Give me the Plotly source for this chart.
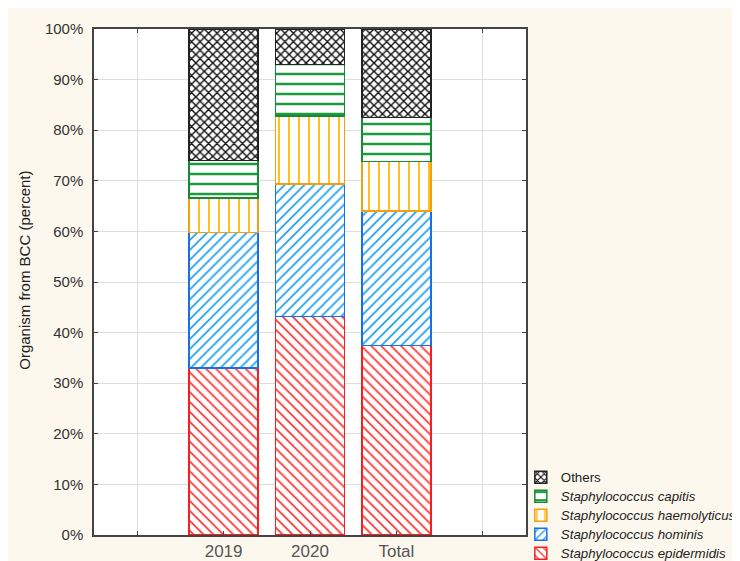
import plotly.graph_objects as go

categories = ["2019", "2020", "Total"]
axis_slots = [" ", "2019", "2020", "Total", "  "]
series_names = [
    "<i>Staphylococcus epidermidis</i>",
    "<i>Staphylococcus hominis</i>",
    "<i>Staphylococcus haemolyticus</i>",
    "<i>Staphylococcus capitis</i>",
    "Others",
]
epidermidis = [33.0, 43.2, 37.5]
hominis = [26.8, 26.2, 26.5]
haemolyticus = [6.8, 13.4, 9.8]
capitis = [7.4, 10.2, 8.7]
others = [26.0, 7.0, 17.5]
y_ticks = [0, 10, 20, 30, 40, 50, 60, 70, 80, 90, 100]
y_ticktext = [f"{v}%" for v in y_ticks]
y_title = "Organism from BCC (percent)"

series_values = [epidermidis, hominis, haemolyticus, capitis, others]
line_colors = ["#f42020", "#1a6ee8", "#f0a010", "#178a35", "#222222"]
pattern_colors = ["#ff3838", "#22a0f4", "#ffc020", "#1e9a3e", "#111111"]
shapes = ["\\", "/", "|", "-", "x"]
sizes = [7, 7, 10, 10, 6]
solid = [0.25, 0.25, 0.2, 0.25, 0.42]

fig = go.Figure()
for name, vals, lc, pc, sh, sz, so in zip(series_names, series_values, line_colors,
                                          pattern_colors, shapes, sizes, solid):
    fig.add_trace(go.Bar(
        x=categories, y=vals, width=0.8,
        name='<span style="font-size:13.3px">' + name + '</span>',
        marker=dict(
            color="white",
            line=dict(color=lc, width=1.5),
            pattern=dict(shape=sh, fgcolor=pc, bgcolor="white", size=sz,
                         solidity=so, fillmode="replace"),
        ),
    ))

fig.update_layout(
    barmode="stack",
    width=740, height=561,
    margin=dict(l=86, r=222, t=21, b=34, autoexpand=False),
    paper_bgcolor="#fcf8ee",
    plot_bgcolor="white",
    font=dict(family="Liberation Sans, Arial, sans-serif", size=13, color="#333333"),
    showlegend=True,
    legend=dict(
        x=0.988, xanchor="left", y=0.143, yanchor="top",
        traceorder="reversed", bgcolor="rgba(0,0,0,0)",
        font=dict(size=12, color="#222222"),
        tracegroupgap=0, itemwidth=30,
    ),
    bargap=0.2,
    annotations=[dict(
        text=y_title, textangle=-90, showarrow=False,
        xref="paper", yref="paper", x=-0.16, y=0.524,
        xanchor="center", yanchor="middle",
        font=dict(size=15, color="#222222"),
    )],
)
fig.update_xaxes(
    type="category", categoryorder="array", categoryarray=axis_slots,
    range=[-0.5, 4.5],
    showgrid=True, gridcolor="#dddddd", gridwidth=1,
    showline=True, linecolor="#444444", linewidth=1.5, mirror="ticks",
    ticks="inside", ticklen=4, tickcolor="#444444",
    tickfont=dict(size=17, color="#555555"),
)
fig.update_yaxes(
    range=[0, 100], tickvals=y_ticks, ticktext=y_ticktext,
    showgrid=True, gridcolor="#dddddd", gridwidth=1,
    showline=True, linecolor="#444444", linewidth=1.5, mirror="ticks",
    ticks="inside", ticklen=4, tickcolor="#444444",
    tickfont=dict(size=15, color="#333333"),
    ticklabelstandoff=6,
)

fig.write_html("out.html")
